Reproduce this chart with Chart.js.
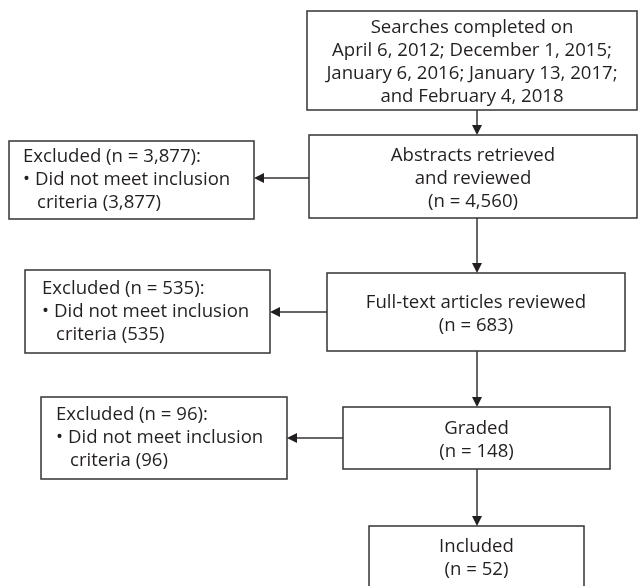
<!DOCTYPE html>
<html>
<head>
<meta charset="utf-8">
<script src="https://cdn.jsdelivr.net/npm/chart.js@4"></script>
<style>
  html, body { margin: 0; background: #fff; }
  canvas { display: block; }
</style>
</head>
<body>
<canvas id="flow" width="638" height="586"></canvas>
<script>
// flow stages, top to bottom
const stageTitles = [
  ["Searches completed on", "April 6, 2012; December 1, 2015;", "January 6, 2016; January 13, 2017;", "and February 4, 2018"],
  ["Abstracts retrieved", "and reviewed"],
  ["Full-text articles reviewed"],
  ["Graded"],
  ["Included"],
];
const stageCounts = [null, 4560, 683, 148, 52];
const excludedCounts = [3877, 535, 96];
const excludedReason = ["Did not meet inclusion", "criteria"];

// layout, in page units: [left, top, right, bottom]
const stageBoxes = [
  [307, 11, 637, 110],
  [309, 135, 637, 218],
  [327, 273, 625, 351],
  [343, 407, 610, 469],
  [369, 526, 584, 600],
];
const excludedBoxes = [
  [9, 141, 254, 219],
  [25, 270, 270, 353],
  [41, 397, 287, 479],
];
const excludedInset = [14, 17, 15];
const arrowX = 477;
const sideArrowY = [178, 312, 438];

const lineH = 23;
const textDrop = 2;
const font = '18.6px "Open Sans"';
const ink = "#231f20";
const fmt = (n) => n.toLocaleString("en-US");

const flowPlugin = {
  id: "flow",
  afterDraw(chart) {
    const ctx = chart.ctx;
    const xs = chart.scales.x;
    const ys = chart.scales.y;
    const px = (v) => xs.getPixelForValue(v);
    const py = (v) => ys.getPixelForValue(v);

    const box = (b) => {
      ctx.strokeRect(px(b[0]), py(b[1]), px(b[2]) - px(b[0]), py(b[3]) - py(b[1]));
    };
    const head = (x, y, dir) => {
      ctx.beginPath();
      if (dir === "down") {
        ctx.moveTo(x, y);
        ctx.lineTo(x - 5, y - 10);
        ctx.lineTo(x + 5, y - 10);
      } else {
        ctx.moveTo(x, y);
        ctx.lineTo(x + 10, y - 5);
        ctx.lineTo(x + 10, y + 5);
      }
      ctx.closePath();
      ctx.fill();
    };

    ctx.save();
    ctx.strokeStyle = "#333";
    ctx.fillStyle = ink;
    ctx.lineWidth = 1.5;
    ctx.font = font;
    ctx.textBaseline = "middle";

    // main column
    stageBoxes.forEach((b, i) => {
      box(b);
      const lines = stageTitles[i].slice();
      if (stageCounts[i] !== null) lines.push("(n = " + fmt(stageCounts[i]) + ")");
      const cx = (px(b[0]) + px(b[2])) / 2;
      // last box runs off the page, so centre its text on the visible part
      const cy = (py(b[1]) + py(b[3] > 586 ? b[1] + 61 : b[3])) / 2 + textDrop;
      ctx.textAlign = "center";
      lines.forEach((t, k) => {
        ctx.fillText(t, cx, cy + (k - (lines.length - 1) / 2) * lineH);
      });
      // arrow down to next stage
      if (i < stageBoxes.length - 1) {
        const nb = stageBoxes[i + 1];
        ctx.beginPath();
        ctx.moveTo(px(arrowX), py(b[3]));
        ctx.lineTo(px(arrowX), py(nb[1]) - 8);
        ctx.stroke();
        head(px(arrowX), py(nb[1]), "down");
      }
    });

    // excluded boxes on the left
    excludedBoxes.forEach((b, i) => {
      box(b);
      const x = px(b[0] + excludedInset[i]);
      const cy = (py(b[1]) + py(b[3])) / 2;
      ctx.textAlign = "left";
      ctx.fillText("Excluded (n = " + fmt(excludedCounts[i]) + "):", x, cy - lineH);
      ctx.fillText("\u2022", x, cy);
      ctx.fillText(excludedReason[0], x + 12, cy);
      ctx.fillText(excludedReason[1] + " (" + fmt(excludedCounts[i]) + ")", x + 14, cy + lineH);

      const from = stageBoxes[i + 1][0];
      const y = py(sideArrowY[i]);
      ctx.beginPath();
      ctx.moveTo(px(from), y);
      ctx.lineTo(px(b[2]) + 8, y);
      ctx.stroke();
      head(px(b[2]), y, "left");
    });
    ctx.restore();
  },
};

new Chart(document.getElementById("flow").getContext("2d"), {
  type: "scatter",
  data: { datasets: [{ data: [], pointRadius: 0 }] },
  options: {
    responsive: false,
    animation: false,
    layout: { padding: 0 },
    plugins: { legend: { display: false }, tooltip: { enabled: false } },
    scales: {
      x: { type: "linear", min: 0, max: 638, display: false },
      y: { type: "linear", min: 0, max: 586, reverse: true, display: false },
    },
  },
  plugins: [flowPlugin],
});
</script>
</body>
</html>
